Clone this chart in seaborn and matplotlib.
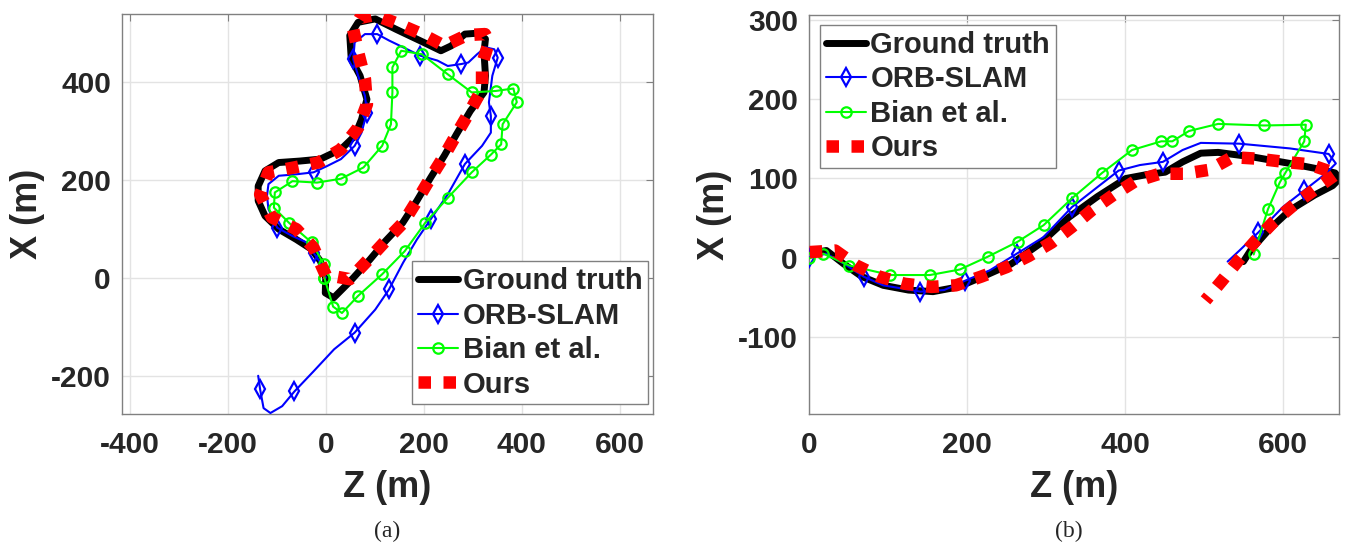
import numpy as np
import pandas as pd
import matplotlib
matplotlib.use("Agg")
import matplotlib.pyplot as plt
from matplotlib.lines import Line2D
import seaborn as sns

# ---------------- data: panel (a) ----------------
a_gt_z = [0, -11, -29, -60, -96, -124, -138, -138, -124, -96, -53, -11, 31, 59, 73, 84, 70, 52, 49, 66,
          101, 143, 200, 235, 256, 284, 312, 326, 323, 326, 323, 295, 267, 242, 214, 186, 157, 122, 90, 50,
          16, -1, 0]
a_gt_x = [3, 34, 58, 78, 99, 126, 157, 187, 218, 235, 238, 242, 262, 289, 323, 364, 412, 446, 494, 521,
          528, 507, 480, 463, 473, 497, 499, 487, 460, 412, 378, 340, 293, 249, 204, 157, 112, 75, 37, -7,
          -41, -31, 3]

a_orb_z = [0, -11, -25, -39, -68, -99, -117, -120, -117, -96, -60, -25, 3, 31, 59, 73, 84, 80, 66, 56,
           59, 80, 105, 129, 158, 193, 228, 249, 277, 291, 309, 326, 344, 351, 340, 333, 337, 337, 319, 284,
           249, 214, 186, 158, 129, 101, 59, 17, -25, -64, -89, -113, -127, -134, -138]
a_orb_x = [0, 31, 51, 72, 85, 102, 140, 167, 191, 208, 211, 215, 228, 242, 269, 296, 337, 371, 412, 446,
           480, 497, 497, 484, 470, 453, 443, 432, 436, 439, 456, 470, 466, 449, 412, 358, 330, 296, 269, 232,
           170, 119, 78, 31, -24, -65, -112, -146, -191, -232, -262, -276, -266, -228, -200]
a_orb_marks = [2, 5, 11, 14, 16, 19, 22, 25, 28, 33, 36, 39, 41, 44, 46, 49, 53]

a_bian_z = [-3, -4, -29, -75, -106, -104, -68, -18, 31, 77, 115, 133, 136, 136, 154, 196, 249, 298, 347,
            383, 390, 361, 358, 337, 298, 249, 203, 161, 115, 66, 33, 15, -3]
a_bian_x = [0, 27, 72, 112, 143, 174, 197, 194, 202, 225, 269, 313, 378, 429, 463, 456, 415, 378, 381,
            386, 358, 313, 272, 251, 215, 163, 112, 54, 7, -37, -72, -59, 0]

a_ours_z = [0, -25, -60, -110, -134, -117, -64, -15, 31, 66, 84, 80, 66, 56, 70, 100, 147, 196, 242, 288,
            325, 333, 319, 319, 295, 267, 242, 214, 186, 158, 122, 87, 49, 17, -1]
a_ours_x = [5, 61, 99, 123, 170, 215, 225, 235, 262, 306, 354, 405, 460, 507, 530, 536, 518, 497, 473,
            495, 497, 480, 436, 385, 341, 293, 249, 204, 157, 112, 75, 37, -3, 3, 10]

# ---------------- data: panel (b) ----------------
b_gt_z = [0, 22, 44, 67, 94, 126, 157, 189, 220, 256, 293, 329, 365, 401, 428, 451, 473, 496, 518, 563,
          609, 645, 666, 672, 663, 640, 609, 582, 559, 550]
b_gt_x = [5, 9, -8, -24, -35, -41, -43, -37, -24, -8, 18, 51, 77, 100, 105, 108, 121, 132, 133, 127,
          119, 112, 107, 100, 91, 79, 60, 35, 9, -5]

b_orb_z = [0, 22, 45, 69, 94, 141, 171, 198, 229, 263, 297, 333, 365, 392, 419, 448, 473, 496, 545, 609,
           658, 667, 654, 627, 600, 569, 545, 530]
b_orb_x = [0, 5, -8, -24, -35, -43, -41, -29, -16, 5, 26, 64, 89, 110, 117, 121, 136, 145, 144, 138,
           131, 119, 106, 85, 64, 32, 9, -5]
b_orb_marks = [0, 3, 5, 7, 9, 11, 13, 15, 18, 20, 23, 25]

b_bian_z = [0, 18, 51, 103, 153, 191, 226, 264, 297, 333, 371, 409, 446, 460, 481, 518, 576, 629, 627,
            603, 596, 581, 563]
b_bian_x = [-1, 5, -10, -22, -22, -15, 1, 20, 41, 75, 107, 136, 147, 147, 160, 169, 167, 168, 147,
            107, 95, 61, 4]

b_ours_z = [1, 33, 60, 89, 121, 155, 186, 218, 250, 278, 307, 333, 358, 385, 412, 444, 475, 507, 536,
            568, 602, 633, 668, 640, 613, 588, 566, 544, 523, 502]
b_ours_x = [7, 9, -10, -24, -33, -37, -35, -24, -12, 2, 19, 39, 60, 79, 96, 106, 106, 111, 127, 125,
            121, 118, 106, 86, 66, 45, 22, -3, -29, -54]

labels = ["Ground truth", "ORB-SLAM", "Bian et al."] + ["Ours"]
a_xticks = [-400, -200, 0, 200, 400, 600]
a_yticks = [-200, 0, 200, 400]
b_xticks = [0, 200, 400, 600]
b_yticks = [-100, 0, 100, 200, 300]

# ---------------- styling ----------------
sns.set_theme(style="white")
plt.rcParams["font.family"] = ["Liberation Sans", "DejaVu Sans"]
plt.rcParams["font.weight"] = "bold"

C_GT, C_ORB, C_BIAN, C_OURS = "#000000", "#0000ff", "#00ff00", "#ff0000"
TICK_COL = "#262626"
EDGE_COL = "#808080"

fig = plt.figure(figsize=(13.5, 5.46), dpi=100)
ax_a = fig.add_axes([122 / 1350, (546 - 414) / 546, 531 / 1350, 400 / 546])
ax_b = fig.add_axes([809 / 1350, (546 - 414.3) / 546, 530 / 1350, 399.6 / 546])

RED_LS = (0, (1, 1))
ORB_MS = 9


def draw(ax, gt, orb, orb_marks, bian, ours):
    sns.lineplot(x=gt[0], y=gt[1], sort=False, estimator=None, ax=ax, color=C_GT, lw=5,
                 solid_joinstyle="round", solid_capstyle="round", zorder=2)
    sns.lineplot(x=orb[0], y=orb[1], sort=False, estimator=None, ax=ax, color=C_ORB, lw=1.5,
                 marker="d", markevery=orb_marks, ms=ORB_MS, mfc="none", mec=C_ORB, mew=1.6, zorder=3)
    sns.lineplot(x=bian[0], y=bian[1], sort=False, estimator=None, ax=ax, color=C_BIAN, lw=1.5,
                 marker="o", ms=7.5, mfc="none", mec=C_BIAN, mew=1.6, zorder=4)
    sns.lineplot(x=ours[0], y=ours[1], sort=False, estimator=None, ax=ax, color=C_OURS, lw=9,
                 linestyle=RED_LS, dash_capstyle="butt", zorder=5)


draw(ax_a, (a_gt_z, a_gt_x), (a_orb_z, a_orb_x), a_orb_marks, (a_bian_z, a_bian_x), (a_ours_z, a_ours_x))
draw(ax_b, (b_gt_z, b_gt_x), (b_orb_z, b_orb_x), b_orb_marks, (b_bian_z, b_bian_x), (b_ours_z, b_ours_x))

ax_a.set_xlim(-416, 668)
ax_a.set_ylim(-278, 538)
ax_b.set_xlim(0, 671)
ax_b.set_ylim(-198, 307)

for ax, xt, yt in [(ax_a, a_xticks, a_yticks), (ax_b, b_xticks, b_yticks)]:
    ax.set_xticks(xt)
    ax.set_yticks(yt)
    ax.set_xticklabels([str(v) for v in xt])
    ax.set_yticklabels([str(v) for v in yt])
    ax.tick_params(direction="in", top=True, right=True, length=5, width=0.8, color=EDGE_COL,
                   labelsize=21.5, labelcolor=TICK_COL, pad=8)
    ax.tick_params(axis="x", pad=12)
    for t in ax.get_xticklabels() + ax.get_yticklabels():
        t.set_fontweight("bold")
    ax.grid(True, color="#e3e3e3", lw=1)
    ax.set_axisbelow(True)
    for s in ax.spines.values():
        s.set_edgecolor(EDGE_COL)
        s.set_linewidth(1)
    ax.set_xlabel("Z (m)", fontsize=26, fontweight="bold", color=TICK_COL, labelpad=8)
    ax.set_ylabel("X (m)", fontsize=26, fontweight="bold", color=TICK_COL, labelpad=4)

handles = [
    Line2D([], [], color=C_GT, lw=5),
    Line2D([], [], color=C_ORB, lw=1.5, marker="d", ms=ORB_MS, mfc="none", mew=1.6),
    Line2D([], [], color=C_BIAN, lw=1.5, marker="o", ms=7.5, mfc="none", mew=1.6),
    Line2D([], [], color=C_OURS, lw=9, linestyle=RED_LS, dash_capstyle="butt"),
]

leg_kw = dict(frameon=True, fancybox=False, framealpha=1, edgecolor=EDGE_COL,
              handlelength=1.38, handletextpad=0.15, labelspacing=0.22, borderpad=0.2,
              borderaxespad=0, prop={"weight": "bold", "size": 21})
la = ax_a.legend(handles, labels, loc="lower right", bbox_to_anchor=(0.9906, 0.024), **leg_kw)
lb = ax_b.legend(handles, labels, loc="upper left", bbox_to_anchor=(0.0208, 0.974), **leg_kw)
for lg in (la, lb):
    lg.get_frame().set_linewidth(1)
    lg.set_zorder(10)

fig.text(387 / 1350, 1 - 531 / 546, "(a)", ha="center", va="center", fontsize=17,
         family=["Liberation Serif", "DejaVu Serif"], fontweight="normal")
fig.text(1069 / 1350, 1 - 531 / 546, "(b)", ha="center", va="center", fontsize=17,
         family=["Liberation Serif", "DejaVu Serif"], fontweight="normal")

fig.savefig("out.png", dpi=100, facecolor="white")
